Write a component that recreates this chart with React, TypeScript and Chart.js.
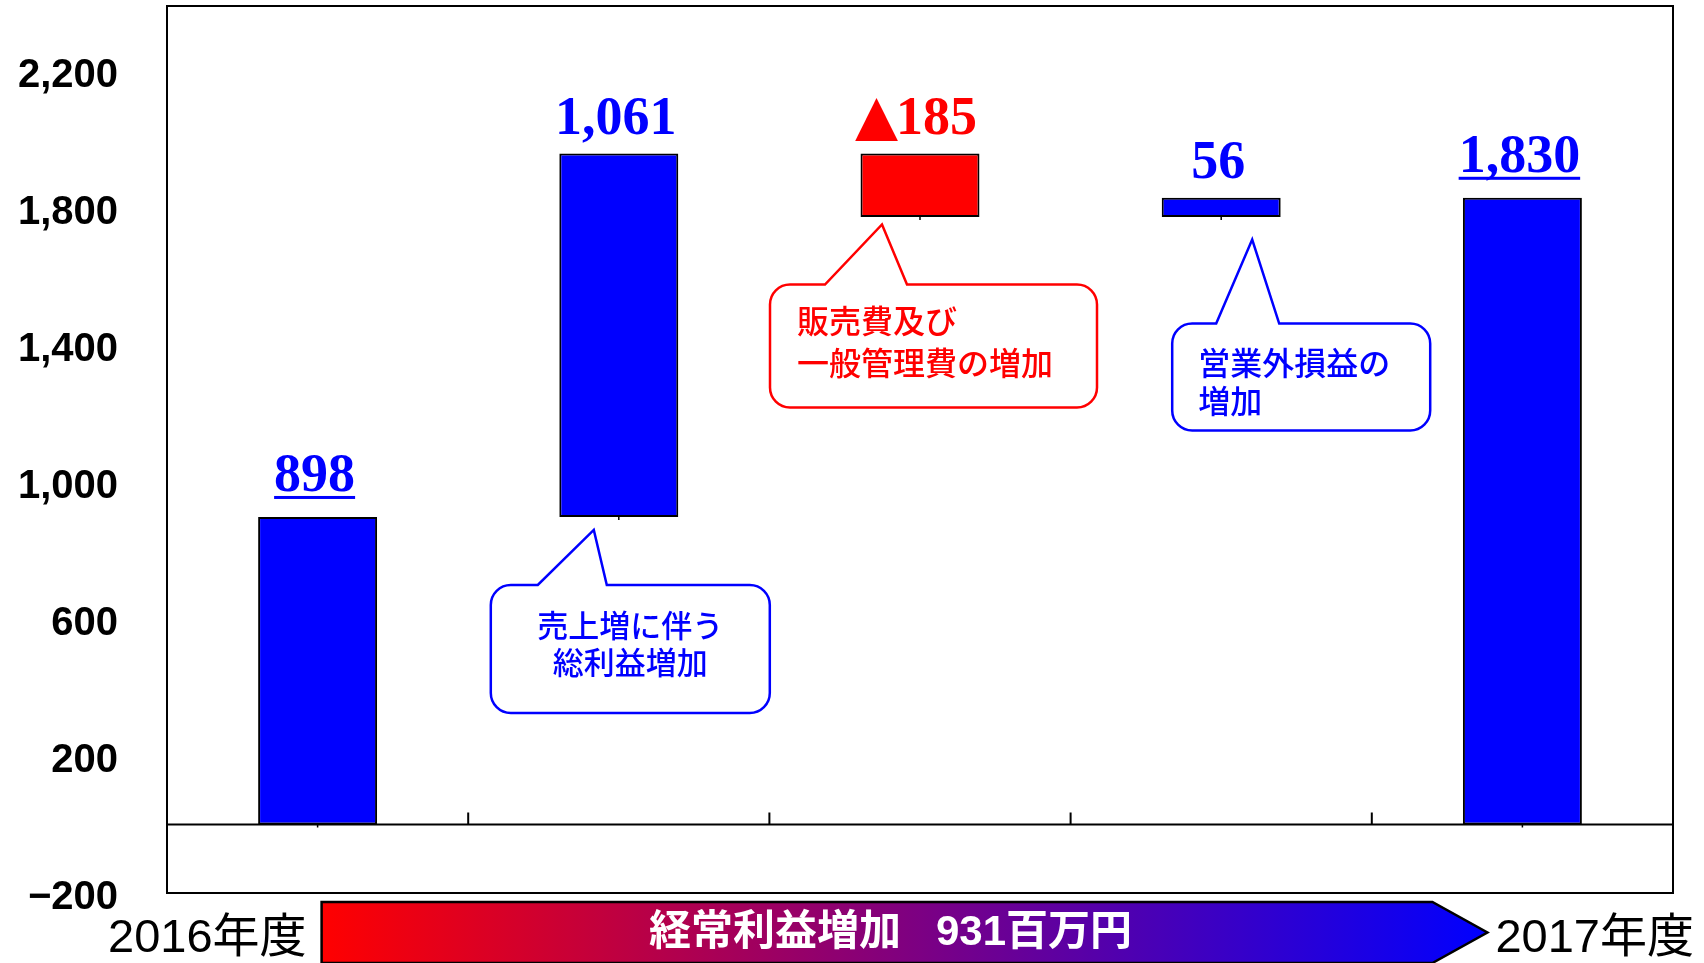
import React, { useEffect, useRef } from 'react';
import { Chart, registerables } from 'chart.js';

Chart.register(...registerables);

// ---- data ----
const categories = ['2016年度', '売上総利益増加', '販売費及び一般管理費の増加', '営業外損益の増加', '2017年度'];
const amounts = [898, 1061, -185, 56, 1830];
const isTotal = [true, false, false, false, true];
const underlined = [true, false, false, false, true];
const yTicks = [-200, 200, 600, 1000, 1400, 1800, 2200];
const yMin = -200;
const yMax = 2390;
const startLabel = '2016年度';
const endLabel = '2017年度';
const arrowText = '経常利益増加   931百万円';
const calloutTexts = [
  ['売上増に伴う', '総利益増加'],
  ['販売費及び', '一般管理費の増加'],
  ['営業外損益の', '増加'],
];
const calloutCats = [1, 2, 3];
const calloutValues = [860, 1752, 1708];

const BLUE = '#0000FF';
const RED = '#FF0000';

// floating ranges built from the amounts
const ranges: [number, number][] = [];
{
  let running = 0;
  amounts.forEach((a, i) => {
    if (isTotal[i]) {
      ranges.push([0, a]);
      running = a;
    } else {
      ranges.push([running, running + a]);
      running += a;
    }
  });
}
const barColors = amounts.map((a) => (a < 0 ? RED : BLUE));
const barNumbers = amounts.map((a) => Math.abs(a).toLocaleString('en-US'));
const calloutColors = amounts.filter((_, i) => calloutCats.includes(i)).map((a) => (a < 0 ? RED : BLUE));

// geometry of callouts, relative to apex (px)
const calloutGeom = [
  { apexDx: -25, baseY: 55, baseL: -56, baseR: 13, boxL: -103, boxR: 176, boxB: 183, align: 'center', textX: 0, lines: [95, 132], size: 31 },
  { apexDx: -38, baseY: 60, baseL: -57, baseR: 25, boxL: -112, boxR: 215, boxB: 183, align: 'left', textX: -85, lines: [96, 138], size: 32 },
  { apexDx: 31, baseY: 84, baseL: -36, baseR: 27, boxL: -80, boxR: 178, boxB: 191, align: 'left', textX: -54, lines: [123, 161], size: 32 },
];

const NUM_FONT = 'bold 54px "Liberation Serif", "Times New Roman", serif';
const TRI_FONT = '56px "DejaVu Sans", "Noto Sans CJK JP", sans-serif';

const decorPlugin = {
  id: 'decor',
  beforeDatasetsDraw(chart: any) {
    const { ctx, chartArea: a, scales } = chart;
    const y = scales.y;
    const x = scales.x;
    const y0 = y.getPixelForValue(0);
    ctx.save();
    ctx.strokeStyle = '#000';
    ctx.lineWidth = 2;
    ctx.beginPath();
    ctx.moveTo(a.left, y0);
    ctx.lineTo(a.right, y0);
    const n = categories.length;
    const cw = (x.getPixelForValue(n - 1) - x.getPixelForValue(0)) / (n - 1);
    for (let i = 0; i <= n; i++) {
      const px = x.getPixelForValue(0) - cw / 2 + i * cw;
      ctx.moveTo(px, y0);
      ctx.lineTo(px, y0 - 12);
    }
    ctx.stroke();
    ctx.strokeRect(a.left, a.top, a.right - a.left, a.bottom - a.top);
    ctx.restore();
  },
  afterDatasetsDraw(chart: any) {
    const { ctx, chartArea: a, scales } = chart;
    const x = scales.x;
    const y = scales.y;
    const meta = chart.getDatasetMeta(0);
    ctx.save();
    // bar value labels
    meta.data.forEach((el: any, i: number) => {
      const p = el.getProps(['x', 'y', 'base'], true);
      const top = Math.min(p.y, p.base);
      const bottom = Math.max(p.y, p.base);
      // tiny center mark below bar
      ctx.strokeStyle = '#000';
      ctx.lineWidth = 1.5;
      ctx.beginPath();
      ctx.moveTo(p.x, bottom);
      ctx.lineTo(p.x, bottom + 3);
      ctx.stroke();

      ctx.fillStyle = barColors[i];
      ctx.textBaseline = 'alphabetic';
      const off = underlined[i] ? 26 : 20;
      const by = top - off;
      const cx = p.x - 3;
      const num = barNumbers[i];
      ctx.font = NUM_FONT;
      const wn = ctx.measureText(num).width;
      if (amounts[i] < 0) {
        ctx.font = TRI_FONT;
        const wt = ctx.measureText('▲').width - 4;
        const start = cx - (wt + wn) / 2;
        ctx.textAlign = 'left';
        ctx.fillText('▲', start - 2, by);
        ctx.font = NUM_FONT;
        ctx.fillText(num, start + wt, by);
      } else {
        ctx.font = NUM_FONT;
        ctx.textAlign = 'center';
        ctx.fillText(num, cx, by);
        if (underlined[i]) {
          ctx.fillRect(cx - wn / 2, by + 5, wn, 3);
        }
      }
    });

    // callouts
    calloutGeom.forEach((g, k) => {
      const col = calloutColors[k];
      const ax = x.getPixelForValue(calloutCats[k]) + g.apexDx;
      const ay = y.getPixelForValue(calloutValues[k]);
      const top = ay + g.baseY;
      const left = ax + g.boxL;
      const right = ax + g.boxR;
      const bot = ay + g.boxB;
      const r = 20;
      ctx.beginPath();
      ctx.moveTo(left + r, top);
      ctx.lineTo(ax + g.baseL, top);
      ctx.lineTo(ax, ay);
      ctx.lineTo(ax + g.baseR, top);
      ctx.lineTo(right - r, top);
      ctx.arcTo(right, top, right, top + r, r);
      ctx.lineTo(right, bot - r);
      ctx.arcTo(right, bot, right - r, bot, r);
      ctx.lineTo(left + r, bot);
      ctx.arcTo(left, bot, left, bot - r, r);
      ctx.lineTo(left, top + r);
      ctx.arcTo(left, top, left + r, top, r);
      ctx.closePath();
      ctx.fillStyle = '#fff';
      ctx.fill();
      ctx.strokeStyle = col;
      ctx.lineWidth = 2.5;
      ctx.lineJoin = 'miter';
      ctx.stroke();
      ctx.fillStyle = col;
      ctx.font = `500 ${g.size}px "Noto Sans CJK JP", sans-serif`;
      ctx.textBaseline = 'middle';
      let tx: number;
      if (g.align === 'center') {
        ctx.textAlign = 'center';
        tx = (left + right) / 2;
      } else {
        ctx.textAlign = 'left';
        tx = ax + g.textX;
      }
      calloutTexts[k].forEach((line, j) => {
        ctx.fillText(line, tx, ay + g.lines[j]);
      });
    });

    // bottom gradient arrow
    const n = categories.length;
    const aLeft = x.getPixelForValue(0) + 4;
    const tip = x.getPixelForValue(n - 1) - 35;
    const bodyEnd = tip - 55;
    const aTop = a.bottom + 9;
    const aBot = chart.height;
    const mid = (aTop + aBot) / 2;
    const grad = ctx.createLinearGradient(aLeft, 0, tip, 0);
    grad.addColorStop(0, '#FF0000');
    grad.addColorStop(1, '#0000FF');
    ctx.beginPath();
    ctx.moveTo(aLeft, aBot);
    ctx.lineTo(aLeft, aTop);
    ctx.lineTo(bodyEnd, aTop);
    ctx.lineTo(tip, mid);
    ctx.lineTo(bodyEnd, aBot);
    ctx.lineTo(aLeft, aBot);
    ctx.closePath();
    ctx.fillStyle = grad;
    ctx.fill();
    ctx.strokeStyle = '#000';
    ctx.lineWidth = 2.5;
    ctx.stroke();

    ctx.fillStyle = '#fff';
    ctx.font = 'bold 42px "Liberation Sans", "Noto Sans CJK JP", sans-serif';
    ctx.textAlign = 'center';
    ctx.textBaseline = 'middle';
    ctx.fillText(arrowText, aLeft + 0.488 * (tip - aLeft), mid + 1);

    ctx.fillStyle = '#000';
    ctx.font = '47px "Liberation Sans", "Noto Sans CJK JP", sans-serif';
    ctx.textAlign = 'right';
    ctx.fillText(startLabel, aLeft - 15, mid + 7);
    ctx.textAlign = 'left';
    ctx.fillText(endLabel, tip + 8, mid + 7);
    ctx.restore();
  },
};

export default function App() {
  const ref = useRef<HTMLCanvasElement>(null);
  useEffect(() => {
    const chart = new Chart(ref.current as HTMLCanvasElement, {
      type: 'bar',
      data: {
        labels: categories,
        datasets: [
          {
            data: ranges as any,
            backgroundColor: barColors,
            borderColor: '#000',
            borderWidth: 2,
            borderSkipped: false,
            barPercentage: 0.395,
            categoryPercentage: 1,
          },
        ],
      },
      options: {
        animation: false,
        responsive: false,
        devicePixelRatio: 1,
        layout: { padding: { left: 0, right: 31, top: 6, bottom: 70 } },
        plugins: { legend: { display: false }, tooltip: { enabled: false } },
        scales: {
          x: { display: false, offset: true },
          y: {
            min: yMin,
            max: yMax,
            grid: { display: false, drawTicks: false },
            border: { display: false },
            afterBuildTicks: (s: any) => {
              s.ticks = yTicks.map((v) => ({ value: v }));
            },
            afterFit: (s: any) => {
              s.width = 167;
              s.paddingTop = 0;
              s.paddingBottom = 0;
            },
            ticks: {
              padding: 49,
              labelOffset: 5,
              color: '#000',
              font: { family: '"Liberation Sans", Arial, sans-serif', size: 40, weight: 'bold' },
              callback: (v: any) => (v < 0 ? '−' + Math.abs(v) : Number(v).toLocaleString('en-US')),
            },
          },
        },
      },
      plugins: [decorPlugin],
    });
    return () => chart.destroy();
  }, []);
  return (
    <div style={{ position: 'fixed', left: 0, top: 0, width: 1704, height: 963, background: '#fff' }}>
      <canvas ref={ref} width={1704} height={963} style={{ width: 1704, height: 963, display: 'block' }} />
    </div>
  );
}
